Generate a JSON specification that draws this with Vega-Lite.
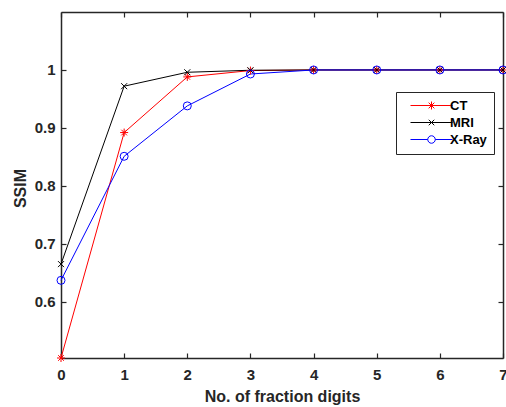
{
  "$schema": "https://vega.github.io/schema/vega-lite/v6.json",
  "width": 442,
  "height": 346,
  "autosize": {"type": "none"},
  "padding": {"left": 61, "top": 12, "right": 3, "bottom": 49},
  "background": "white",
  "config": {
    "view": {"stroke": null},
    "font": "Liberation Sans",
    "axis": {
      "domainColor": "#262626",
      "domainWidth": 1.5,
      "tickColor": "#262626",
      "tickWidth": 1.2,
      "tickSize": -5,
      "grid": false,
      "labelFont": "Liberation Sans",
      "labelFontWeight": "bold",
      "labelFontSize": 15,
      "labelColor": "#262626",
      "titleFont": "Liberation Sans",
      "titleFontWeight": "bold",
      "titleFontSize": 16,
      "titleColor": "#262626"
    },
    "legend": {
      "labelFont": "Liberation Sans",
      "labelFontWeight": "bold",
      "labelFontSize": 13,
      "labelColor": "#000000"
    }
  },
  "data": {
    "values": [
      {"series": "CT", "digits": 0, "ssim": 0.503},
      {"series": "CT", "digits": 1, "ssim": 0.892},
      {"series": "CT", "digits": 2, "ssim": 0.988},
      {"series": "CT", "digits": 3, "ssim": 0.999},
      {"series": "CT", "digits": 4, "ssim": 1.0},
      {"series": "CT", "digits": 5, "ssim": 1.0},
      {"series": "CT", "digits": 6, "ssim": 1.0},
      {"series": "CT", "digits": 7, "ssim": 1.0},
      {"series": "MRI", "digits": 0, "ssim": 0.665},
      {"series": "MRI", "digits": 1, "ssim": 0.972},
      {"series": "MRI", "digits": 2, "ssim": 0.996},
      {"series": "MRI", "digits": 3, "ssim": 0.9995},
      {"series": "MRI", "digits": 4, "ssim": 1.0},
      {"series": "MRI", "digits": 5, "ssim": 1.0},
      {"series": "MRI", "digits": 6, "ssim": 1.0},
      {"series": "MRI", "digits": 7, "ssim": 1.0},
      {"series": "X-Ray", "digits": 0, "ssim": 0.637},
      {"series": "X-Ray", "digits": 1, "ssim": 0.851},
      {"series": "X-Ray", "digits": 2, "ssim": 0.938},
      {"series": "X-Ray", "digits": 3, "ssim": 0.993},
      {"series": "X-Ray", "digits": 4, "ssim": 1.0},
      {"series": "X-Ray", "digits": 5, "ssim": 1.0},
      {"series": "X-Ray", "digits": 6, "ssim": 1.0},
      {"series": "X-Ray", "digits": 7, "ssim": 1.0}
    ]
  },
  "layer": [
    {
      "mark": {"type": "line", "strokeWidth": 1},
      "encoding": {
        "x": {
          "field": "digits", "type": "quantitative",
          "scale": {"domain": [0, 7], "nice": false, "zero": false},
          "axis": {
            "values": [0, 1, 2, 3, 4, 5, 6, 7],
            "title": "No. of fraction digits",
            "labelPadding": 14,
            "labelFlush": false,
            "titleX": 221, "titleY": 43.7, "titleBaseline": "alphabetic", "titleAlign": "center"
          }
        },
        "y": {
          "field": "ssim", "type": "quantitative",
          "scale": {"domain": [0.503, 1.1], "nice": false, "zero": false},
          "axis": {
            "values": [0.6, 0.7, 0.8, 0.9, 1],
            "format": "~g",
            "title": "SSIM",
            "labelPadding": 11,
            "labelFlush": false,
            "titleX": -36, "titleY": 176, "titleBaseline": "alphabetic", "titleAlign": "center", "titleAngle": -90
          }
        },
        "color": {
          "field": "series", "type": "nominal",
          "scale": {"domain": ["CT", "MRI", "X-Ray"], "range": ["#ff0000", "#000000", "#0000ff"]},
          "legend": null
        }
      }
    },
    {
      "mark": {"type": "point", "filled": false, "strokeWidth": 1, "size": 64, "opacity": 1},
      "encoding": {
        "x": {"field": "digits", "type": "quantitative", "scale": {"domain": [0, 7], "nice": false, "zero": false}, "axis": null},
        "y": {"field": "ssim", "type": "quantitative", "scale": {"domain": [0.503, 1.1], "nice": false, "zero": false}, "axis": null},
        "color": {
          "field": "series", "type": "nominal",
          "scale": {"domain": ["CT", "MRI", "X-Ray"], "range": ["#ff0000", "#000000", "#0000ff"]},
          "legend": null
        },
        "shape": {
          "field": "series", "type": "nominal",
          "scale": {"domain": ["CT", "MRI", "X-Ray"], "range": [
            "M-1,0H1M0,-1V1M-0.7,-0.7L0.7,0.7M-0.7,0.7L0.7,-0.7",
            "M-0.75,-0.75L0.75,0.75M-0.75,0.75L0.75,-0.75",
            "circle"
          ]},
          "legend": null
        }
      }
    },
    {
      "transform": [{"filter": "false"}],
      "mark": {"type": "point", "filled": false, "strokeWidth": 1, "opacity": 1},
      "encoding": {
        "x": {
          "field": "digits", "type": "quantitative",
          "scale": {"domain": [0, 7], "nice": false, "zero": false},
          "axis": {"orient": "top", "values": [0, 1, 2, 3, 4, 5, 6, 7], "labels": false, "title": null}
        },
        "y": {
          "field": "ssim", "type": "quantitative",
          "scale": {"domain": [0.503, 1.1], "nice": false, "zero": false},
          "axis": {"orient": "right", "values": [0.6, 0.7, 0.8, 0.9, 1], "labels": false, "title": null}
        },
        "color": {
          "field": "series", "type": "nominal",
          "scale": {"domain": ["CT", "MRI", "X-Ray"], "range": ["#ff0000", "#000000", "#0000ff"]},
          "legend": {
            "title": null, "orient": "none", "legendX": 335, "legendY": 80,
            "strokeColor": "#262626", "fillColor": "white", "padding": 7,
            "symbolSize": 100, "symbolStrokeWidth": 1, "labelOffset": 34, "rowPadding": 3
          }
        },
        "shape": {
          "field": "series", "type": "nominal",
          "scale": {"domain": ["CT", "MRI", "X-Ray"], "range": [
            "M0.2,0H8.6M4.4,-0.8V0.8M3.83,-0.57L4.97,0.57M3.83,0.57L4.97,-0.57",
            "M0.2,0H8.6M3.85,-0.55L4.95,0.55M3.85,0.55L4.95,-0.55",
            "M0.2,0H3.65M5.15,0H8.6M3.65,0A0.75,0.75,0,1,1,5.15,0A0.75,0.75,0,1,1,3.65,0"
          ]},
          "legend": {
            "title": null, "orient": "none", "legendX": 335, "legendY": 80,
            "strokeColor": "#262626", "fillColor": "white", "padding": 7,
            "symbolSize": 100, "symbolStrokeWidth": 1, "labelOffset": 34, "rowPadding": 3
          }
        }
      }
    }
  ],
  "resolve": {
    "scale": {"shape": "independent", "color": "independent"},
    "axis": {"x": "independent", "y": "independent"}
  }
}
